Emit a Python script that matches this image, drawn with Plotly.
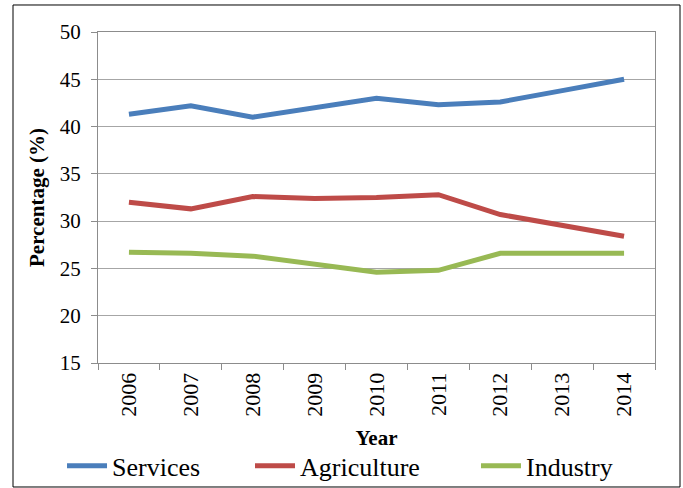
import plotly.graph_objects as go

years = ["2006", "2007", "2008", "2009", "2010", "2011", "2012", "2013", "2014"]
services = [41.3, 42.2, 41.0, 42.0, 43.0, 42.3, 42.6, 43.8, 45.0]
agriculture = [32.0, 31.3, 32.6, 32.4, 32.5, 32.8, 30.7, 29.5, 28.4]
industry = [26.7, 26.6, 26.3, 25.5, 24.6, 24.8, 26.6, 26.6, 26.6]

series = [
    ("Services", services, "#4A7EBB"),
    ("Agriculture", agriculture, "#BE4B48"),
    ("Industry", industry, "#98B954"),
]

serif = "Liberation Serif"
legend_ids = ["legend", "legend2", "legend3"]
legend_x = [-0.0646, 0.2729, 0.6786]

fig = go.Figure()
for (name, vals, color), lg in zip(series, legend_ids):
    fig.add_trace(go.Scatter(
        x=years, y=vals, name=name, mode="lines",
        line=dict(color=color, width=5), legend=lg,
    ))

legend_style = dict(
    orientation="h", xanchor="left", y=-0.311, yanchor="middle",
    font=dict(size=26, family=serif), itemwidth=40,
    bgcolor="rgba(0,0,0,0)",
)

fig.update_layout(
    width=683, height=488,
    margin=dict(l=98, r=28, t=32, b=125, autoexpand=False),
    paper_bgcolor="white", plot_bgcolor="white",
    font=dict(family=serif, color="black"),
    showlegend=True,
    legend=dict(x=legend_x[0], **legend_style),
    legend2=dict(x=legend_x[1], **legend_style),
    legend3=dict(x=legend_x[2], **legend_style),
    xaxis=dict(
        type="category", range=[-0.5, len(years) - 0.5],
        tickson="boundaries", ticks="outside", ticklen=6,
        tickcolor="#8c8c8c", tickangle=-90, showgrid=False,
        showline=True, linecolor="#8c8c8c", mirror=True, automargin=False,
        tickfont=dict(size=22, family=serif),
        title=dict(text="<b>Year</b>", font=dict(size=21, family=serif), standoff=14),
    ),
    yaxis=dict(
        range=[15, 50], dtick=5, ticks="outside", ticklen=6, tickcolor="#8c8c8c",
        ticklabelstandoff=6,
        showgrid=True, gridcolor="#a6a6a6", gridwidth=1,
        showline=True, linecolor="#8c8c8c", mirror=True, zeroline=False,
        automargin=False,
        tickfont=dict(size=21, family=serif),
        title=dict(text="<b>Percentage (%)</b>", font=dict(size=21, family=serif), standoff=9),
    ),
)

# frame around the whole chart
fig.add_shape(
    type="rect", xref="paper", yref="paper",
    x0=-0.1526, x1=1.0449, y0=-0.3746, y1=1.0816,
    line=dict(color="black", width=1), fillcolor="rgba(0,0,0,0)", layer="below",
)

fig.write_html("out.html")
